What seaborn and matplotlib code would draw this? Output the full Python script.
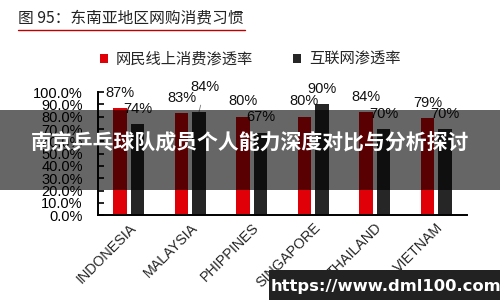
import matplotlib
matplotlib.use("Agg")
import matplotlib.pyplot as plt
import seaborn as sns
import pandas as pd
from matplotlib.patches import Patch, Rectangle
from matplotlib.lines import Line2D
from matplotlib.ticker import PercentFormatter

countries = ["INDONESIA", "MALAYSIA", "PHIPPINES", "SINGAPORE", "THAILAND", "VIETNAM"]
online_spend = [0.87, 0.83, 0.80, 0.80, 0.84, 0.79]
internet_pen = [0.74, 0.84, 0.67, 0.90, 0.70, 0.70]
series_names = ["网民线上消费渗透率", "互联网渗透率"]
title_text = "图 95：东南亚地区网购消费习惯"
banner_text = "南京乒乓球队成员个人能力深度对比与分析探讨"
watermark_text = "https://www.dml100.com"

colors = ["#e00008", "#262626"]

sns.set_style("white")
plt.rcParams["font.family"] = ["Liberation Sans", "Noto Sans CJK SC", "DejaVu Sans"]

df = pd.DataFrame({
    "country": countries * 2,
    "value": online_spend + internet_pen,
    "series": [series_names[0]] * len(countries) + [series_names[1]] * len(countries),
})

fig = plt.figure(figsize=(5, 3), dpi=100)
ax = fig.add_axes([0.196, 0.283, 0.738, 0.41])

sns.barplot(data=df, x="country", y="value", hue="series", hue_order=series_names,
            palette=colors, width=0.57, gap=0.25, ax=ax, legend=False,
            saturation=1, edgecolor="none")

ax.set_ylim(0, 1.0)
ax.set_xlim(-0.5, len(countries) - 0.5)
ax.set_yticks([i / 10 for i in range(11)])
ax.yaxis.set_major_formatter(PercentFormatter(xmax=1, decimals=1))
ax.tick_params(axis="y", direction="in", length=4, width=1.2, pad=11,
               labelsize=10.5, colors="black", left=True)
ax.tick_params(axis="x", length=0, pad=4)
ax.set_xticks(range(len(countries)))
ax.set_xticklabels(countries, rotation=45, ha="right", va="top",
                   rotation_mode="anchor", fontsize=10.3)
for lbl in ax.get_xticklabels():
    lbl.set_x(lbl.get_position()[0])
for s in ["top", "right"]:
    ax.spines[s].set_visible(False)
for s in ["left", "bottom"]:
    ax.spines[s].set_color("black")
    ax.spines[s].set_linewidth(1.4)
ax.set_xlabel("")
ax.set_ylabel("")

# data labels
for cont in ax.containers:
    for bar in cont:
        h = bar.get_height()
        cx = bar.get_x() + bar.get_width() / 2
        ax.annotate(f"{h*100:.0f}%", (cx, h), xytext=(0, 11), textcoords="offset points",
                    ha="center", va="center", fontsize=10.5, color="#111111",
                    annotation_clip=False)
# Malaysia internet label sits higher, with a leader line
texts = [t for t in ax.texts]
mal_idx = len(countries) + 1
texts[mal_idx].remove()
bar = ax.containers[1][1]
cx = bar.get_x() + bar.get_width() / 2
ax.annotate(f"{internet_pen[1]*100:.0f}%", (cx, internet_pen[1]), xytext=(4.5, 18),
            textcoords="offset points", ha="center", va="center", fontsize=10.5,
            color="#111111", annotation_clip=False,
            arrowprops=dict(arrowstyle="-", color="#777777", lw=0.6, shrinkA=6, shrinkB=5))

# title + underline
fig.text(0.036, 0.94, title_text, fontsize=11.3, color="#222222", ha="left", va="center",
         family=["Noto Sans CJK SC", "DejaVu Sans"])
fig.add_artist(Line2D([0.036, 0.49], [0.9, 0.9], color="#c00000", lw=1.0,
                      transform=fig.transFigure))

# legend
handles = [Patch(facecolor=c, edgecolor="none") for c in colors]
leg = fig.legend(handles, series_names, loc="center", bbox_to_anchor=(0.5, 0.803), ncol=2,
                 frameon=False, handlelength=0.55, handleheight=0.55, handletextpad=0.5,
                 columnspacing=2.6, prop={"family": ["Noto Sans CJK SC"], "size": 11})

# overlay banner
fig.add_artist(Rectangle((0, 1 - 190 / 300), 1, 80 / 300, transform=fig.transFigure,
                         facecolor="black", alpha=0.6, edgecolor="none", zorder=10))
fig.text(0.5, 1 - 142 / 300, banner_text, fontsize=15, fontweight="bold", color="white",
         ha="center", va="center", zorder=11, family=["Noto Sans CJK SC", "DejaVu Sans"])

# watermark
fig.add_artist(Rectangle((269 / 500, 0), 1 - 269 / 500, 30 / 300, transform=fig.transFigure,
                         facecolor="#222222", edgecolor="none", zorder=10))
fig.text(0.771, 1 - 287 / 300, watermark_text, fontsize=11.8, fontweight="bold", color="white",
         ha="center", va="center", zorder=11, family=["DejaVu Sans"])

fig.savefig("out.png", dpi=100, facecolor="white")
